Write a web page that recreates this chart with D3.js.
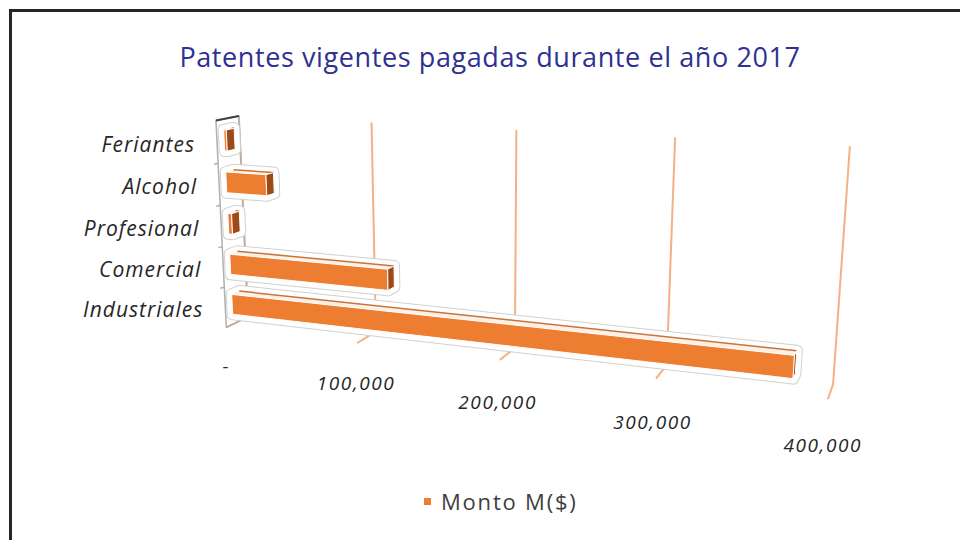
<!DOCTYPE html>
<html>
<head>
<meta charset="utf-8">
<script src="https://cdn.jsdelivr.net/npm/d3@7"></script>
<style>
  html, body { margin: 0; padding: 0; background: #fff; }
  svg { display: block; }
</style>
</head>
<body>
<div id="chart"></div>
<script>
// data
const categories = ["Feriantes", "Alcohol", "Profesional", "Comercial", "Industriales"];
const values = [2000, 31000, 3000, 119000, 379000];
const valueTicks = [0, 100000, 200000, 300000, 400000];
const tickLabels = ["-", "100,000", "200,000", "300,000", "400,000"];
const seriesName = "Monto M($)";
const title = "Patentes vigentes pagadas durante el año 2017";

const width = 960, height = 540;

// simple perspective camera for the 3D look
const f = 1245, cx = 480, cy = 270;
const yaw = 21.4 * Math.PI / 180;
const tilt = 13.68 * Math.PI / 180;
function toCam(v) {
  return [v[0],
    v[1] * Math.cos(tilt) + v[2] * Math.sin(tilt),
    -v[1] * Math.sin(tilt) + v[2] * Math.cos(tilt)];
}
const eX = toCam([Math.cos(yaw), 0, -Math.sin(yaw)]);
const eY = toCam([0, 1, 0]);
const eZ = toCam([-Math.sin(yaw), 0, -Math.cos(yaw)]);
const origin = [-186.3, -37.75, 1000];

// box size in world units
const boxW = 455.5, boxH = 161.3, boxD = 31.8;
const barZ0 = 11, barZ1 = 22;

function project(X, Y, Z) {
  const p = [0, 1, 2].map(i => origin[i] + X * eX[i] + Y * eY[i] + Z * eZ[i]);
  return [cx + f * p[0] / p[2], cy - f * p[1] / p[2]];
}

const x = d3.scaleLinear().domain([0, 400000]).range([0, boxW]);
const y = d3.scaleBand()
  .domain(categories.slice().reverse())
  .range([0, boxH])
  .paddingInner(0.5)
  .paddingOuter(0.25);

const svg = d3.select("#chart").append("svg")
  .attr("width", width)
  .attr("height", height);

// outer frame (only top/left edges show)
svg.append("line").attr("x1", 10.5).attr("y1", 10).attr("x2", 10.5).attr("y2", height)
  .attr("stroke", "#262626").attr("stroke-width", 3);
svg.append("line").attr("x1", 9).attr("y1", 10.5).attr("x2", width).attr("y2", 10.5)
  .attr("stroke", "#262626").attr("stroke-width", 3);

svg.append("text")
  .attr("x", 490)
  .attr("y", 67)
  .attr("text-anchor", "middle")
  .attr("font-family", "Open Sans, sans-serif")
  .attr("font-size", 27)
  .attr("letter-spacing", 0.6)
  .attr("fill", "#2E3192")
  .text(title);

const line = d3.line();
const plot = svg.append("g");

// back wall gridlines + floor gridlines
valueTicks.forEach(t => {
  const X = x(t);
  plot.append("path")
    .attr("d", line([project(X, boxH, 0), project(X, 0, 0), project(X, 0, boxD)]))
    .attr("fill", "none")
    .attr("stroke", "#F4B183")
    .attr("stroke-width", 2);
});

// side wall at value 0
const wall = [project(0, boxH, boxD), project(0, boxH, 0), project(0, 0, 0), project(0, 0, boxD)];
plot.append("path")
  .attr("d", line(wall) + "Z")
  .attr("fill", "none")
  .attr("stroke", "#b0b0b0")
  .attr("stroke-width", 1.5);
plot.append("path")
  .attr("d", line([wall[0], wall[1]]))
  .attr("stroke", "#404040")
  .attr("stroke-width", 2);

// category tick marks on the wall front edge
d3.range(1, categories.length).forEach(i => {
  const Y = y.step() * i;
  const p = project(0, Y, boxD);
  plot.append("line")
    .attr("x1", p[0]).attr("y1", p[1])
    .attr("x2", p[0] - 4).attr("y2", p[1] + 1)
    .attr("stroke", "#b0b0b0").attr("stroke-width", 1.5);
});

// bars, drawn top to bottom
categories.forEach((c, i) => {
  const v = x(values[i]);
  const y0 = y(c), y1 = y(c) + y.bandwidth();
  const g = plot.append("g");
  const corners = [];
  [0, v].forEach(X => [y0, y1].forEach(Y => [barZ0, barZ1].forEach(Z => corners.push(project(X, Y, Z)))));
  const hull = d3.polygonHull(corners);
  g.append("path").attr("d", line(hull) + "Z")
    .attr("fill", "#fff").attr("stroke", "#d0d0d0").attr("stroke-width", 12)
    .attr("stroke-linejoin", "round");
  g.append("path").attr("d", line(hull) + "Z")
    .attr("fill", "#fff").attr("stroke", "#fff").attr("stroke-width", 10)
    .attr("stroke-linejoin", "round");

  const top = [project(0, y1, barZ0), project(v, y1, barZ0), project(v, y1, barZ1), project(0, y1, barZ1)];
  g.append("path").attr("d", line(top) + "Z").attr("fill", "#fdf0e6");
  g.append("path").attr("d", line([top[0], top[1]]))
    .attr("stroke", "#C8733A").attr("stroke-width", 1.5);

  const front = [project(0, y0, barZ1), project(v, y0, barZ1), project(v, y1, barZ1), project(0, y1, barZ1)];
  g.append("path").attr("d", line(front) + "Z")
    .attr("fill", "#ED7D31").attr("stroke", "#fff").attr("stroke-width", 1);

  const end = [project(v, y0, barZ0), project(v, y1, barZ0), project(v, y1, barZ1), project(v, y0, barZ1)];
  g.append("path").attr("d", line(end) + "Z")
    .attr("fill", "#9C4A16").attr("stroke", "#fff").attr("stroke-width", 1);
});

// category labels
categories.forEach(c => {
  const p = project(0, y(c) + y.bandwidth() / 2, boxD);
  svg.append("text")
    .attr("x", p[0] - 22)
    .attr("y", p[1] + 10)
    .attr("text-anchor", "end")
    .attr("font-family", "Open Sans, sans-serif")
    .attr("font-style", "italic")
    .attr("font-size", 21)
    .attr("letter-spacing", 1)
    .attr("fill", "#262626")
    .text(c);
});

// value labels, hung below the floor front edge
valueTicks.forEach((t, i) => {
  const p = project(x(t), -30, boxD);
  svg.append("text")
    .attr("x", p[0] - 2)
    .attr("y", p[1] + 9)
    .attr("text-anchor", "middle")
    .attr("font-family", "Open Sans, sans-serif")
    .attr("font-style", "italic")
    .attr("font-size", 19)
    .attr("letter-spacing", 1.6)
    .attr("fill", "#262626")
    .text(tickLabels[i]);
});

// legend
const legend = svg.append("g").attr("transform", "translate(424,498)");
legend.append("rect").attr("width", 7).attr("height", 7).attr("fill", "#ED7D31");
legend.append("text")
  .attr("x", 17)
  .attr("y", 12)
  .attr("font-family", "Open Sans, sans-serif")
  .attr("font-size", 22)
  .attr("letter-spacing", 1.8)
  .attr("fill", "#404040")
  .text(seriesName);
</script>
</body>
</html>
